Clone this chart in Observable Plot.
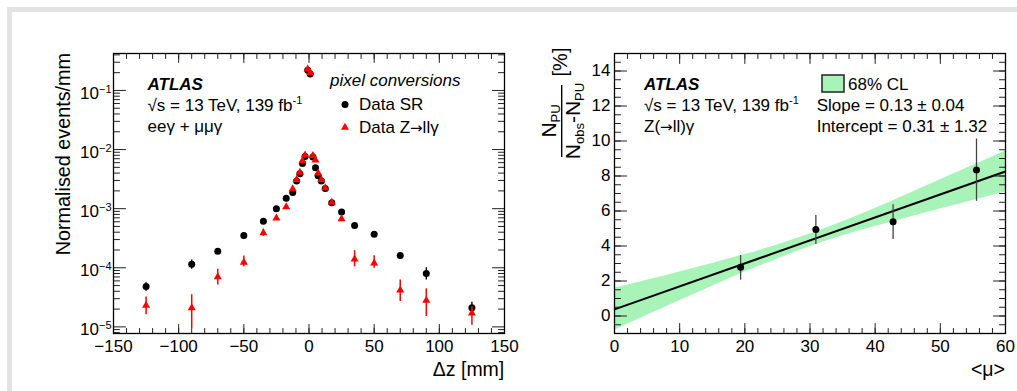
<!DOCTYPE html>
<html><head><meta charset="utf-8">
<script src="https://cdn.jsdelivr.net/npm/d3@7"></script>
<script src="https://cdn.jsdelivr.net/npm/@observablehq/plot@0.6"></script>
<style>
body{margin:0;background:#fff;}
#wrap{position:relative;width:1017px;height:391px;overflow:hidden;font-family:"Liberation Sans",Arial,sans-serif;background:#fff;}
#border{position:absolute;left:7px;top:7px;width:1100px;height:500px;border-left:5px solid #e3e3e3;border-top:5px solid #e3e3e3;}
.panel{position:absolute;top:0;}
</style></head><body><div id="wrap"><div id="border"></div></div>
<script>
// ---------- Left panel data: Δz distribution ----------
const dzBins   = [-125,-90,-70,-50,-35,-25,-17.5,-12.5,-9.5,-7,-5,-3,-1,1,3,5,7,9.5,12.5,17.5,25,35,50,70,90,125];
const srValues = [4.8e-5,1.15e-4,1.9e-4,3.5e-4,6.1e-4,1.0e-3,1.5e-3,1.88e-3,2.95e-3,3.9e-3,5.8e-3,7.6e-3,0.22,0.19,7.5e-3,4.9e-3,3.6e-3,2.95e-3,2.2e-3,1.26e-3,8.8e-4,5.2e-4,3.7e-4,1.62e-4,8.0e-5,2.1e-5];
const srLow    = [4.0e-5,9.4e-5,1.75e-4,3.35e-4,5.9e-4,0.98e-3,1.47e-3,1.85e-3,2.9e-3,3.85e-3,5.7e-3,7.5e-3,0.215,0.185,7.4e-3,4.85e-3,3.55e-3,2.9e-3,2.17e-3,1.23e-3,8.5e-4,4.95e-4,3.55e-4,1.5e-4,6.2e-5,1.7e-5];
const srHigh   = [5.6e-5,1.35e-4,2.05e-4,3.65e-4,6.3e-4,1.02e-3,1.53e-3,1.91e-3,3.0e-3,3.95e-3,5.9e-3,7.7e-3,0.225,0.195,7.6e-3,4.95e-3,3.65e-3,3.0e-3,2.23e-3,1.29e-3,9.1e-4,5.45e-4,3.85e-4,1.75e-4,1.0e-4,2.6e-5];
const zValues  = [2.3e-5,2.1e-5,7.0e-5,1.23e-4,3.9e-4,6.9e-4,1.07e-3,2.15e-3,3.1e-3,4.1e-3,6.4e-3,8.0e-3,0.23,0.20,7.9e-3,6.6e-3,4.0e-3,3.1e-3,2.25e-3,1.28e-3,6.7e-4,1.4e-4,1.2e-4,4.2e-5,2.8e-5,1.7e-5];
const zLow     = [1.6e-5,9.3e-6,5.1e-5,1.04e-4,3.4e-4,6.3e-4,0.98e-3,2.05e-3,3.0e-3,4.0e-3,6.3e-3,7.9e-3,0.225,0.195,7.8e-3,6.5e-3,3.9e-3,3.0e-3,2.15e-3,1.2e-3,6.1e-4,1.04e-4,9.8e-5,2.7e-5,1.5e-5,1.07e-5];
const zHigh    = [3.2e-5,3.5e-5,9.4e-5,1.58e-4,4.5e-4,7.6e-4,1.17e-3,2.25e-3,3.2e-3,4.2e-3,6.5e-3,8.1e-3,0.235,0.205,8.0e-3,6.7e-3,4.1e-3,3.2e-3,2.35e-3,1.36e-3,7.4e-4,1.95e-4,1.6e-4,6.2e-5,4.4e-5,2.2e-5];
const dzTicks  = [-150,-100,-50,0,50,100,150];
const decadeTicks = [1e-5,1e-4,1e-3,1e-2,1e-1];

// ---------- Right panel data: pile-up fraction vs <mu> ----------
const muValues    = [19.35, 30.9, 42.75, 55.55];
const ratioValues = [2.79, 4.94, 5.38, 8.34];
const ratioLow    = [2.05, 4.08, 4.37, 6.55];
const ratioHigh   = [3.46, 5.74, 6.36, 10.12];
const fitMu    = [0, 60];
const fitRatio = [0.38, 8.26];
const bandMu   = [0, 5, 10, 15, 20, 25, 30, 35, 40, 45, 50, 55, 60];
const bandLow  = [-0.82, 0.04, 0.87, 1.70, 2.51, 3.26, 3.96, 4.58, 5.11, 5.62, 6.11, 6.60, 7.09];
const bandHigh = [1.58, 2.04, 2.51, 3.00, 3.51, 4.06, 4.68, 5.38, 6.15, 6.96, 7.79, 8.60, 9.43];
const muTicks    = [0,10,20,30,40,50,60];
const ratioTicks = [0,2,4,6,8,10,12,14];

const FONT = '"Liberation Sans", Arial, Helvetica, sans-serif';
const GREEN = "#a8f4b8";

const tickShape = {draw(ctx, l){ ctx.moveTo(0,0); ctx.lineTo(0,-l); }};
function ticks(values, axis, side, length){
  const rot = {bottom:0, top:180, left:90, right:-90}[side];
  const o = {frameAnchor: side, length, rotate: rot, anchor: "start", shape: tickShape, stroke: "#222", strokeWidth: 1};
  if (axis === "x") o.x = d => d; else o.y = d => d;
  return Plot.vector(values, o);
}

// ---------- Left chart ----------
const left = dzBins.map((dz,i)=>({dz, sr: srValues[i], srLo: srLow[i], srHi: srHigh[i], z: zValues[i], zLo: zLow[i], zHi: zHigh[i]}));
const dzMinor = d3.range(-150, 151, 10);
const logMinor = [];
for (let e = -6; e <= -1; e++) for (let k = 2; k <= 9; k++) { const v = k*Math.pow(10,e); if (v > 7.73e-6 && v < 0.4217) logMinor.push(v); }

const chartL = Plot.plot({
  width: 520, height: 391,
  marginLeft: 113, marginRight: 16, marginTop: 53, marginBottom: 58,
  style: {fontFamily: FONT, fontSize: "16px", color: "#000", background: "transparent"},
  x: {domain: [-150, 150], label: null},
  y: {type: "log", domain: [7.73e-6, 0.4217], label: null},
  marks: [
    ticks(dzMinor, "x", "bottom", 5), ticks(dzTicks, "x", "bottom", 9),
    ticks(dzMinor, "x", "top", 5), ticks(dzTicks, "x", "top", 9),
    ticks(logMinor, "y", "left", 6), ticks(decadeTicks, "y", "left", 12),
    ticks(logMinor, "y", "right", 6), ticks(decadeTicks, "y", "right", 12),
    Plot.axisX({ticks: dzTicks, tickSize: 0, tickPadding: 6, fontSize: 17, tickFormat: d => d < 0 ? "\u2212" + Math.abs(d) : String(d)}),
    Plot.axisY({ticks: decadeTicks, tickSize: 0, tickPadding: 2, fontSize: 17, dy: 3, tickFormat: d => String(Math.round(Math.log10(d)))}),
    Plot.ruleX(left, {x: "dz", y1: "srLo", y2: "srHi", stroke: "#000", strokeWidth: 1.4, clip: true}),
    Plot.dot(left, {x: "dz", y: "sr", r: 3.5, fill: "#000", stroke: "none", clip: true}),
    Plot.ruleX(left, {x: "dz", y1: "zLo", y2: "zHi", stroke: "#ff0000", strokeWidth: 1.5, clip: true}),
    Plot.dot(left, {x: "dz", y: "z", r: 3.0, symbol: "triangle", fill: "#ff0000", stroke: "none", clip: true}),
    Plot.frame({stroke: "#000", strokeWidth: 1.3})
  ]
});
chartL.classList.add("panel"); chartL.style.left = "0px";
document.getElementById("wrap").appendChild(chartL);

// superscript exponents on log tick labels
d3.select(chartL).selectAll('g[aria-label="y-axis tick label"] text').each(function(){
  const e = this.textContent.replace("-", "\u2212");
  const t = d3.select(this); t.text("10");
  t.append("tspan").attr("dy", "-0.55em").attr("font-size", "11px").text(e);
});

// ---------- Right chart ----------
const pts = muValues.map((m,i)=>({mu: m, r: ratioValues[i], lo: ratioLow[i], hi: ratioHigh[i]}));
const band = bandMu.map((m,i)=>({mu: m, lo: bandLow[i], hi: bandHigh[i]}));
const fit = fitMu.map((m,i)=>({mu: m, r: fitRatio[i]}));
const muMinor = d3.range(0, 61, 2);
const ratioMinor = d3.range(-1, 15.01, 0.5);

const chartR = Plot.plot({
  width: 497, height: 391,
  marginLeft: 94, marginRight: 12, marginTop: 53, marginBottom: 58,
  style: {fontFamily: FONT, fontSize: "16px", color: "#000", background: "transparent"},
  x: {domain: [0, 60], label: null},
  y: {domain: [-1, 15], label: null},
  marks: [
    Plot.areaY(band, {x: "mu", y1: "lo", y2: "hi", fill: GREEN, fillOpacity: 1, curve: "natural", clip: true}),
    Plot.line(fit, {x: "mu", y: "r", stroke: "#000", strokeWidth: 2, clip: true}),
    Plot.ruleX(pts, {x: "mu", y1: "lo", y2: "hi", stroke: "#444", strokeWidth: 1.3}),
    Plot.dot(pts, {x: "mu", y: "r", r: 3.5, fill: "#000", stroke: "none"}),
    ticks(muMinor, "x", "bottom", 5), ticks(muTicks, "x", "bottom", 10),
    ticks(muMinor, "x", "top", 5), ticks(muTicks, "x", "top", 10),
    ticks(ratioMinor, "y", "left", 6), ticks(ratioTicks, "y", "left", 12),
    ticks(ratioMinor, "y", "right", 6), ticks(ratioTicks, "y", "right", 12),
    Plot.axisX({ticks: muTicks, tickSize: 0, tickPadding: 6, fontSize: 17, tickFormat: d => String(d)}),
    Plot.axisY({ticks: ratioTicks, tickSize: 0, tickPadding: 4, fontSize: 17, tickFormat: d => String(d)}),
    Plot.frame({stroke: "#000", strokeWidth: 1.3})
  ]
});
chartR.classList.add("panel"); chartR.style.left = "520px";
document.getElementById("wrap").appendChild(chartR);

// ---------- Annotations ----------
function txt(svg, x, y, s, opts={}){
  const t = d3.select(svg).append("text").attr("x", x).attr("y", y)
    .attr("font-family", FONT).attr("font-size", opts.size || 17).attr("fill", "#000")
    .attr("text-anchor", opts.anchor || "start");
  if (opts.weight) t.attr("font-weight", opts.weight);
  if (opts.style) t.attr("font-style", opts.style);
  if (opts.transform) t.attr("transform", opts.transform);
  if (s) t.text(s);
  return t;
}
function arrow(t){ t.append("tspan").attr("font-family", '"DejaVu Sans", sans-serif').attr("font-size", 15).text("\u2192"); }
function sqrtLine(svg, x, y){
  const t = txt(svg, x, y, "\u221As = 13 TeV, 139 fb");
  t.append("tspan").attr("dy", -7).attr("font-size", 11).text("-1");
}
// left
txt(chartL, 147.5, 89.5, "ATLAS", {weight: "bold", style: "italic"});
sqrtLine(chartL, 147.5, 110.5);
txt(chartL, 147.5, 131.5, "ee\u03B3 + \u03BC\u03BC\u03B3");
txt(chartL, 330, 86, "pixel conversions", {style: "italic"});
d3.select(chartL).append("circle").attr("cx", 345).attr("cy", 104.5).attr("r", 3.5).attr("fill", "#000");
txt(chartL, 359, 110, "Data SR");
d3.select(chartL).append("path").attr("d", d3.symbol(d3.symbolTriangle, 28)()).attr("transform", "translate(345,127.5)").attr("fill", "#ff0000");
{ const t = txt(chartL, 359, 133, "Data Z"); arrow(t); t.append("tspan").text("ll\u03B3"); }
txt(chartL, 504.3, 376, "\u0394z [mm]", {size: 19.5, anchor: "end"});
txt(chartL, 0, 0, "Normalised events/mm", {size: 19.8, anchor: "end", transform: "translate(69.5,53) rotate(-90)"});

// right (svg offset 520)
const R = 520;
txt(chartR, 644-R, 89.5, "ATLAS", {weight: "bold", style: "italic"});
sqrtLine(chartR, 644-R, 110.5);
{ const t = txt(chartR, 644-R, 131.5, "Z("); arrow(t); t.append("tspan").text("ll)\u03B3"); }
d3.select(chartR).append("rect").attr("x", 822-R).attr("y", 75).attr("width", 22).attr("height", 17)
  .attr("fill", GREEN).attr("stroke", "#222").attr("stroke-width", 1.5);
txt(chartR, 848-R, 89.5, "68% CL");
txt(chartR, 816.7-R, 110.5, "Slope = 0.13 \u00B1 0.04");
txt(chartR, 816.7-R, 131.5, "Intercept = 0.31 \u00B1 1.32");
txt(chartR, 1005-R, 376, "<\u03BC>", {size: 19.5, anchor: "end"});
// y title: fraction
const g = d3.select(chartR).append("g").attr("transform", `translate(${561.7-R},121) rotate(-90)`).attr("font-family", FONT);
g.append("line").attr("x1", -36).attr("x2", 36).attr("y1", 0).attr("y2", 0).attr("stroke", "#000").attr("stroke-width", 1.4);
const num = g.append("text").attr("x", 0).attr("y", -6).attr("text-anchor", "middle").attr("font-size", 21);
num.append("tspan").text("N"); num.append("tspan").attr("dy", 4).attr("font-size", 13).text("PU");
const den = g.append("text").attr("x", 0).attr("y", 18).attr("text-anchor", "middle").attr("font-size", 21);
den.append("tspan").text("N"); den.append("tspan").attr("dy", 4).attr("font-size", 13).text("obs");
den.append("tspan").attr("dy", -4).text("-N"); den.append("tspan").attr("dy", 4).attr("font-size", 13).text("PU");
g.append("text").attr("x", 59).attr("y", 5).attr("text-anchor", "middle").attr("font-size", 20).text("[%]");
</script></body></html>
